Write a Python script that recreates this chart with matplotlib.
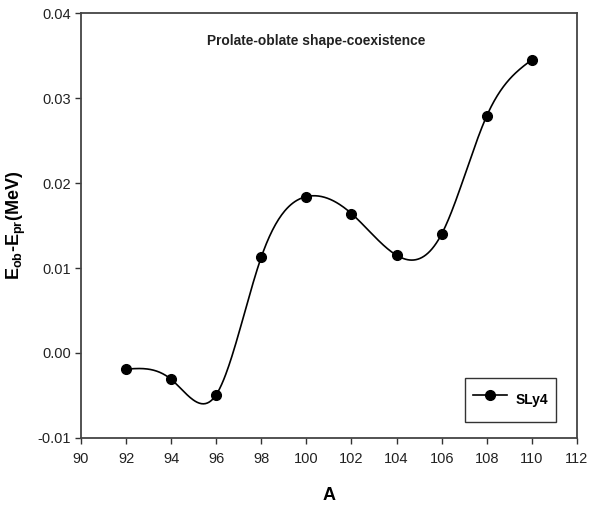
import numpy as np
import matplotlib
matplotlib.use("Agg")
import matplotlib.pyplot as plt

A = [92, 94, 96, 98, 100, 102, 104, 106, 108, 110]
dE = [-0.0019, -0.0031, -0.0049, 0.0113, 0.0184, 0.0164, 0.0115, 0.0140, 0.0279, 0.0345]
xticks = [90, 92, 94, 96, 98, 100, 102, 104, 106, 108, 110, 112]
yticks = [-0.01, 0.00, 0.01, 0.02, 0.03, 0.04]
ytick_labels = ["-0.01", "0.00", "0.01", "0.02", "0.03", "0.04"]

plt.rcParams['font.family'] = ['Liberation Sans', 'DejaVu Sans']
plt.rcParams['mathtext.fontset'] = 'custom'
plt.rcParams['mathtext.rm'] = 'Liberation Sans'
plt.rcParams['mathtext.bf'] = 'Liberation Sans:bold'
plt.rcParams['mathtext.it'] = 'Liberation Sans:italic'


def natural_spline(x, y, n=400):
    x = np.asarray(x, float)
    y = np.asarray(y, float)
    m = len(x)
    h = np.diff(x)
    M = np.zeros((m, m))
    r = np.zeros(m)
    M[0, 0] = 1
    M[-1, -1] = 1
    for i in range(1, m - 1):
        M[i, i - 1] = h[i - 1]
        M[i, i] = 2 * (h[i - 1] + h[i])
        M[i, i + 1] = h[i]
        r[i] = 6 * ((y[i + 1] - y[i]) / h[i] - (y[i] - y[i - 1]) / h[i - 1])
    c = np.linalg.solve(M, r)
    xs = np.linspace(x[0], x[-1], n)
    idx = np.clip(np.searchsorted(x, xs) - 1, 0, m - 2)
    x0, x1 = x[idx], x[idx + 1]
    hh = x1 - x0
    a = (x1 - xs) / hh
    b = (xs - x0) / hh
    ys = a * y[idx] + b * y[idx + 1] + ((a**3 - a) * c[idx] + (b**3 - b) * c[idx + 1]) * hh**2 / 6
    return xs, ys


fig = plt.figure(figsize=(5.89, 5.08), dpi=100)
ax = fig.add_axes([0.1375, 0.1378, 0.842, 0.8366])

xs, ys = natural_spline(A, dE)
ax.plot(xs, ys, color='black', lw=1.2)
ax.plot(A, dE, 'o', color='black', ms=7)
ax.plot([], [], '-o', color='black', ms=7, lw=1.2, label='SLy4')

ax.set_xlim(90, 112)
ax.set_ylim(-0.01, 0.04)
ax.set_xticks(xticks)
ax.set_yticks(yticks)
ax.set_yticklabels(ytick_labels)
ax.tick_params(direction='out', length=4, width=1, labelsize=10.5, colors='#333333', labelcolor='#222222')
ax.tick_params(axis='x', pad=6)
ax.tick_params(axis='y', pad=3)
for s in ax.spines.values():
    s.set_linewidth(1.3)
    s.set_color('#444444')

ax.text(0.474, 0.935, 'Prolate-oblate shape-coexistence', transform=ax.transAxes,
        ha='center', va='center', fontsize=9.9, fontweight='bold', color='#222222')

ax.set_xlabel('A', fontsize=13, fontweight='bold', labelpad=15)
ax.set_ylabel(r'$\mathbf{E_{ob}}$-$\mathbf{E_{pr}}$(MeV)', fontsize=13, fontweight='bold', labelpad=7)

leg = ax.legend(loc='lower right', bbox_to_anchor=(0.958, 0.037), frameon=True, fancybox=False,
                edgecolor='black', handlelength=2.4, handletextpad=0.6, borderpad=0.6,
                handleheight=2.7, borderaxespad=0.0,
                prop={'weight': 'bold', 'size': 10})
leg.get_frame().set_linewidth(1.0)

fig.savefig('out.png', dpi=100)
